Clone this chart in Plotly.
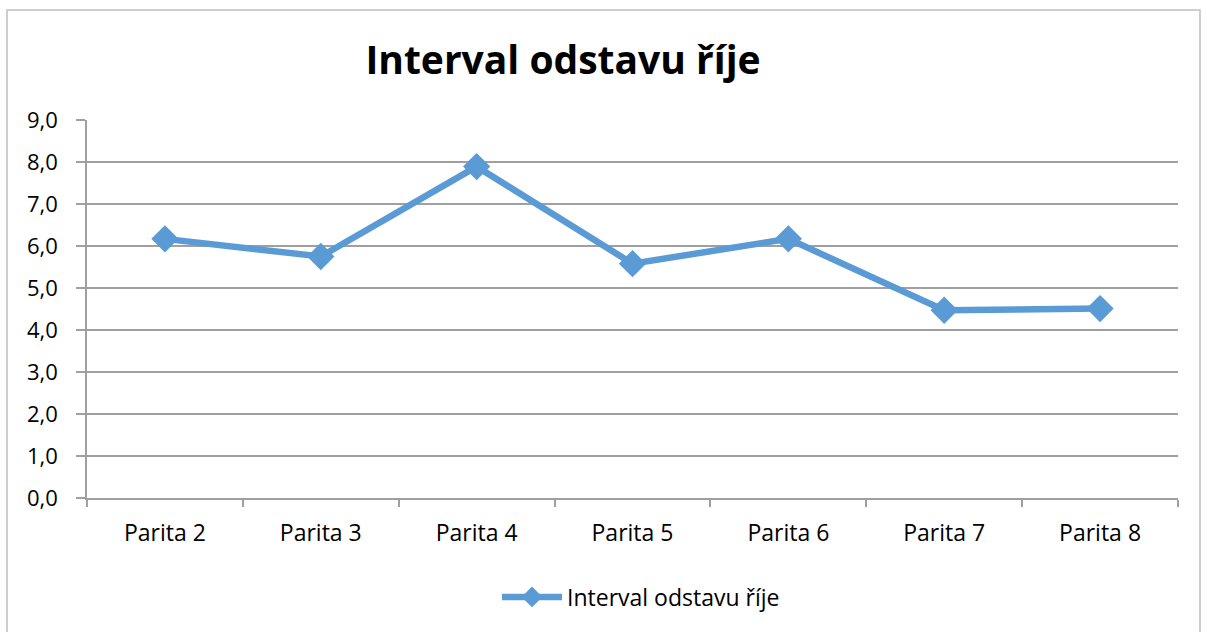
import plotly.graph_objects as go

categories = ["Parita 2", "Parita 3", "Parita 4", "Parita 5", "Parita 6", "Parita 7", "Parita 8"]
values = [6.17, 5.75, 7.89, 5.58, 6.17, 4.47, 4.51]
series_name = "Interval odstavu říje"
title_text = "Interval odstavu říje"
y_ticks = [0, 1, 2, 3, 4, 5, 6, 7, 8, 9]

W, H = 1207, 632
L, R, T, B = 87, 29, 120, 134
pw = W - L - R
ph = H - T - B

def px_x(x):
    return (x - L) / pw

def px_y(y):
    return (H - B - y) / ph

fig = go.Figure()
fig.add_trace(go.Scatter(
    x=categories, y=values, name=series_name, mode="lines+markers",
    line=dict(color="#5B9BD5", width=6.5),
    marker=dict(symbol="diamond", size=21, color="#5B9BD5"),
))

fig.update_layout(
    width=W, height=H,
    margin=dict(l=L, r=R, t=T, b=B),
    paper_bgcolor="white", plot_bgcolor="white",
    separators=",.",
    font=dict(family="Open Sans", size=23, color="black"),
    title=dict(text="<b>" + title_text + "</b>", x=563 / W, xref="container", xanchor="center",
               y=1 - 60 / H, yref="container", yanchor="middle",
               font=dict(family="Open Sans", size=39, color="black")),
    showlegend=True,
    legend=dict(orientation="h", x=px_x(641), xanchor="center", y=px_y(597), yanchor="middle",
                font=dict(size=23), itemwidth=60),
    xaxis=dict(type="category", showgrid=False, showline=True, linecolor="#A0A0A0", linewidth=1.5,
               ticks="outside", tickson="boundaries", ticklen=7, tickcolor="#A0A0A0", tickwidth=1.5,
               ticklabelstandoff=14, range=[-0.5, 6.5], tickfont=dict(size=23)),
    yaxis=dict(range=[0, 9], tickvals=y_ticks, tickformat=".1f", showgrid=True, gridcolor="#A0A0A0",
               gridwidth=1.5, showline=True, linecolor="#A0A0A0", linewidth=1.5, zeroline=False,
               ticks="outside", ticklen=9, tickcolor="#A0A0A0", tickwidth=1.5, ticklabelstandoff=14,
               tickfont=dict(size=22)),
    shapes=[dict(type="rect", xref="paper", yref="paper", x0=px_x(7), x1=px_x(1200),
                 y0=px_y(660), y1=px_y(10), line=dict(color="#BFBFBF", width=1.5), layer="below")],
)

fig.write_html("out.html", config={"displayModeBar": False},
               post_script="document.body.style.margin='0';document.body.style.overflow='hidden';")
